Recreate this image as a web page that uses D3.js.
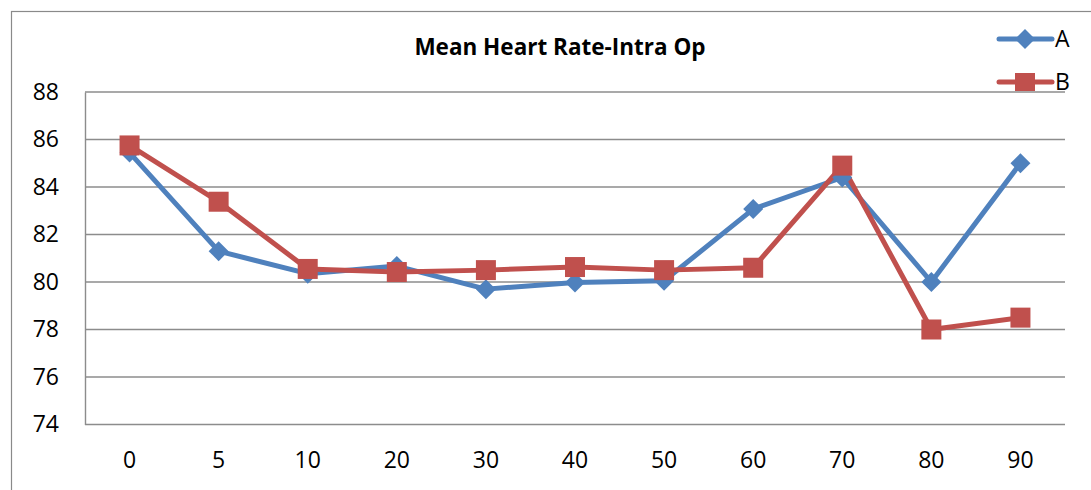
<!DOCTYPE html>
<html>
<head>
<meta charset="utf-8">
<script src="https://cdnjs.cloudflare.com/ajax/libs/d3/7.8.5/d3.min.js"></script>
<style>
  body { margin: 0; background: #fff; }
  svg { display: block; font-family: "Open Sans", "Liberation Sans", sans-serif; }
</style>
</head>
<body>
<script>
// data
var categories = ["0", "5", "10", "20", "30", "40", "50", "60", "70", "80", "90"];
var seriesA = [85.45, 81.3, 80.35, 80.67, 79.7, 79.98, 80.05, 83.07, 84.4, 80.0, 85.0];
var seriesB = [85.75, 83.38, 80.55, 80.42, 80.5, 80.63, 80.5, 80.6, 84.9, 78.0, 78.5];
var yTicks = [74, 76, 78, 80, 82, 84, 86, 88];

var w = 1091, h = 490;
var margin = {left: 85, right: 26, top: 92, bottom: 65};

var svg = d3.select("body").append("svg")
    .attr("width", w)
    .attr("height", h);

// outer chart border
svg.append("rect")
    .attr("x", 11.5).attr("y", 11.5)
    .attr("width", w).attr("height", h)
    .attr("fill", "none")
    .attr("stroke", "#8a8a8a")
    .attr("stroke-width", 1.2);

var xScale = d3.scaleBand()
    .domain(categories)
    .range([margin.left, w - margin.right]);

var yScale = d3.scaleLinear()
    .domain([74, 88])
    .range([h - margin.bottom - 0.5, margin.top]);

// gridlines
svg.append("g")
    .selectAll("line")
    .data(yTicks)
    .enter()
    .append("line")
    .attr("x1", margin.left)
    .attr("x2", w - margin.right)
    .attr("y1", function(d) { return yScale(d); })
    .attr("y2", function(d) { return yScale(d); })
    .attr("stroke", "#8c8c8c")
    .attr("stroke-width", 1.4);

// y axis
var yAxis = d3.axisLeft(yScale).tickValues(yTicks).tickSize(0).tickPadding(26);
var gy = svg.append("g")
    .attr("transform", "translate(" + margin.left + ",0)")
    .call(yAxis);
gy.select(".domain").attr("stroke", "#8c8c8c").attr("stroke-width", 1.4);
gy.selectAll("text")
    .attr("font-size", 23)
    .attr("fill", "#000")
    .attr("font-family", "Open Sans");

// x axis labels
var xAxis = d3.axisBottom(xScale).tickSize(0).tickPadding(27);
var gx = svg.append("g")
    .attr("transform", "translate(0," + yScale(74) + ")")
    .call(xAxis);
gx.select(".domain").remove();
gx.selectAll("text")
    .attr("font-size", 23)
    .attr("fill", "#000")
    .attr("font-family", "Open Sans");

// title
svg.append("text")
    .attr("x", 560)
    .attr("y", 55)
    .attr("text-anchor", "middle")
    .attr("font-size", 22.5)
    .attr("font-weight", "bold")
    .text("Mean Heart Rate-Intra Op");

var line = d3.line()
    .x(function(d, i) { return xScale(categories[i]) + xScale.bandwidth() / 2; })
    .y(function(d) { return yScale(d); });

var blue = "#4f81bd", red = "#c0504d";

function diamond(g, x, y, r) {
    g.append("path")
        .attr("d", "M" + x + "," + (y - r) + "L" + (x + r) + "," + y + "L" + x + "," + (y + r) + "L" + (x - r) + "," + y + "Z")
        .attr("fill", blue);
}

// series A
svg.append("path")
    .datum(seriesA)
    .attr("d", line)
    .attr("fill", "none")
    .attr("stroke", blue)
    .attr("stroke-width", 5)
    .attr("stroke-linejoin", "round");

// series B
svg.append("path")
    .datum(seriesB)
    .attr("d", line)
    .attr("fill", "none")
    .attr("stroke", red)
    .attr("stroke-width", 5)
    .attr("stroke-linejoin", "round");

var gA = svg.append("g");
seriesA.forEach(function(d, i) {
    diamond(gA, xScale(categories[i]) + xScale.bandwidth() / 2, yScale(d), 10);
});

svg.append("g")
    .selectAll("rect")
    .data(seriesB)
    .enter()
    .append("rect")
    .attr("x", function(d, i) { return xScale(categories[i]) + xScale.bandwidth() / 2 - 10; })
    .attr("y", function(d) { return yScale(d) - 10; })
    .attr("width", 20)
    .attr("height", 20)
    .attr("fill", red);

// legend
var leg = svg.append("g");
leg.append("line")
    .attr("x1", 999).attr("x2", 1052).attr("y1", 39).attr("y2", 39)
    .attr("stroke", blue).attr("stroke-width", 5).attr("stroke-linecap", "round");
diamond(leg, 1025, 39, 10);
leg.append("text").attr("x", 1055).attr("y", 47).attr("font-size", 23).text("A");

leg.append("line")
    .attr("x1", 999).attr("x2", 1052).attr("y1", 82).attr("y2", 82)
    .attr("stroke", red).attr("stroke-width", 5).attr("stroke-linecap", "round");
leg.append("rect")
    .attr("x", 1015).attr("y", 73).attr("width", 20).attr("height", 18)
    .attr("fill", red);
leg.append("text").attr("x", 1055).attr("y", 90).attr("font-size", 23).text("B");
</script>
</body>
</html>
